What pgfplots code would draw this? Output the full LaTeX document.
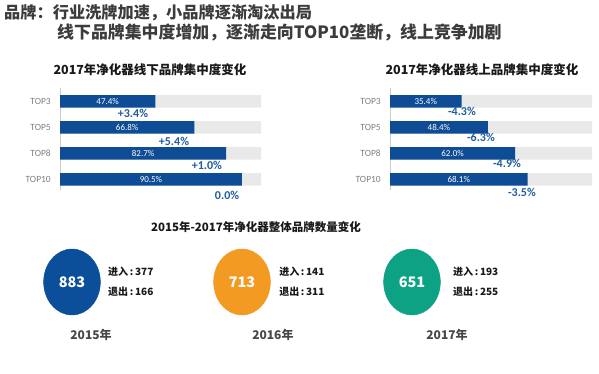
\documentclass[border=0pt]{standalone}
\usepackage{pgfplots}
\pgfplotsset{compat=1.18}
\usepackage{fontspec}
\setmainfont{Noto Sans CJK SC}
\newfontfamily\carl{Carlito}
\definecolor{barblue}{HTML}{0E4C96}
\definecolor{bggray}{HTML}{E9E9E9}
\definecolor{chgblue}{HTML}{1F5C9E}
\definecolor{titlegray}{HTML}{3C3C3C}
\definecolor{cblue}{HTML}{0B4F9B}
\definecolor{corange}{HTML}{F29A21}
\definecolor{cgreen}{HTML}{0CA283}
\begin{document}
\begin{tikzpicture}
\useasboundingbox (0,0) rectangle (599pt,-374pt);
\begin{scope}[x=1pt,y=-1pt]
\node[anchor=west, inner sep=0pt, text=titlegray, font=\fontsize{16.2}{17}\selectfont\bfseries] at (4,13) {品牌：行业洗牌加速，小品牌逐渐淘汰出局};
\node[anchor=west, inner sep=0pt, text=titlegray, font=\fontsize{16.9}{17}\selectfont\bfseries] at (57,33) {线下品牌集中度增加，逐渐走向TOP10垄断，线上竞争加剧};
\node[font=\fontsize{12.5}{13}\selectfont\bfseries, text=black!90] at (150,70) {2017年净化器线下品牌集中度变化};
\node[font=\fontsize{12.5}{13}\selectfont\bfseries, text=black!90] at (482,70) {2017年净化器线上品牌集中度变化};
\node[font=\fontsize{11.5}{13}\selectfont\bfseries, text=black!90] at (256,227) {2015年-2017年净化器整体品牌数量变化};
\end{scope}

% left bars
\begin{axis}[at={(60pt,-190pt)}, anchor=south west, scale only axis,
  width=201pt, height=102pt, xmin=0, xmax=100, ymin=-0.404, ymax=3.519,
  axis x line=none, axis y line*=left, y axis line style={draw=black!20},
  ytick={0,1,2,3}, yticklabels={TOP10,TOP8,TOP5,TOP3}, major tick length=0pt,
  yticklabel style={font=\carl\fontsize{9.5}{10}\selectfont, text=black!50, inner sep=0pt, anchor=east, xshift=-9pt},
  clip=false]
\addplot[xbar, bar width=12.5pt, bar shift=0pt, fill=bggray, draw=none] coordinates {(100,0)(100,1)(100,2)(100,3)};
\addplot[xbar, bar width=12.5pt, bar shift=0pt, fill=barblue, draw=none] coordinates {(90.5,0)(82.7,1)(66.8,2)(47.4,3)};
\begin{scope}[every node/.style={font=\carl\fontsize{9}{9}\selectfont, text=white}]
\node at (axis cs:45.25,0) {90.5\%};
\node at (axis cs:41.35,1) {82.7\%};
\node at (axis cs:33.4,2) {66.8\%};
\node at (axis cs:23.7,3) {47.4\%};
\end{scope}
\begin{scope}[every node/.style={font=\carl\bfseries\fontsize{12}{12}\selectfont, text=chgblue}]
\node at (axis cs:36.3,2.56) {+3.4\%};
\node at (axis cs:56.7,1.46) {+5.4\%};
\node at (axis cs:73.1,0.54) {+1.0\%};
\node at (axis cs:83.1,-0.6) {0.0\%};
\end{scope}
\end{axis}

% right bars
\begin{axis}[at={(390pt,-190pt)}, anchor=south west, scale only axis,
  width=202pt, height=102pt, xmin=0, xmax=100, ymin=-0.404, ymax=3.519,
  axis x line=none, axis y line*=left, y axis line style={draw=black!20},
  ytick={0,1,2,3}, yticklabels={TOP10,TOP8,TOP5,TOP3}, major tick length=0pt,
  yticklabel style={font=\carl\fontsize{9.5}{10}\selectfont, text=black!50, inner sep=0pt, anchor=east, xshift=-9pt},
  clip=false]
\addplot[xbar, bar width=12.5pt, bar shift=0pt, fill=bggray, draw=none] coordinates {(100,0)(100,1)(100,2)(100,3)};
\addplot[xbar, bar width=12.5pt, bar shift=0pt, fill=barblue, draw=none] coordinates {(68.1,0)(62.0,1)(48.4,2)(35.4,3)};
\begin{scope}[every node/.style={font=\carl\fontsize{9}{9}\selectfont, text=white}]
\node at (axis cs:34.05,0) {68.1\%};
\node at (axis cs:31.0,1) {62.0\%};
\node at (axis cs:24.2,2) {48.4\%};
\node at (axis cs:17.7,3) {35.4\%};
\end{scope}
\begin{scope}[every node/.style={font=\carl\bfseries\fontsize{12}{12}\selectfont, text=chgblue}]
\node at (axis cs:35.6,2.6) {-4.3\%};
\node at (axis cs:45.0,1.6) {-6.3\%};
\node at (axis cs:57.9,0.6) {-4.9\%};
\node at (axis cs:65.3,-0.48) {-3.5\%};
\end{scope}
\end{axis}

% bottom circles
\begin{axis}[at={(0pt,-374pt)}, anchor=south west, scale only axis,
  width=599pt, height=174pt, xmin=-0.4235, xmax=3.1, ymin=-92, ymax=82,
  hide axis, clip=false,
  every node near coord/.append style={anchor=center, text=white, font=\fontsize{14.5}{14}\selectfont\bfseries}]
\addplot[only marks, mark=*, mark size=33pt, mark options={xscale=0.86, fill=cblue, draw=cblue},
  point meta=explicit symbolic, nodes near coords] coordinates {(0,0) [883]};
\addplot[only marks, mark=*, mark size=33pt, mark options={xscale=0.86, fill=corange, draw=corange},
  point meta=explicit symbolic, nodes near coords] coordinates {(1,0) [713]};
\addplot[only marks, mark=*, mark size=33pt, mark options={xscale=0.86, fill=cgreen, draw=cgreen},
  point meta=explicit symbolic, nodes near coords] coordinates {(2,0) [651]};
\begin{scope}[every node/.style={font=\fontsize{10}{10}\selectfont\bfseries, text=black!90, anchor=west, inner sep=0pt}]
\node at (axis cs:0.212,10) {进入\,:\,377};
\node at (axis cs:0.212,-10) {退出\,:\,166};
\node at (axis cs:1.218,10) {进入\,:\,141};
\node at (axis cs:1.218,-10) {退出\,:\,311};
\node at (axis cs:2.241,10) {进入\,:\,193};
\node at (axis cs:2.241,-10) {退出\,:\,255};
\end{scope}
\begin{scope}[every node/.style={font=\fontsize{12}{12}\selectfont\bfseries, text=black!72}]
\node at (axis cs:0.112,-53) {2015年};
\node at (axis cs:1.182,-53) {2016年};
\node at (axis cs:2.206,-53) {2017年};
\end{scope}
\end{axis}
\end{tikzpicture}
\end{document}
